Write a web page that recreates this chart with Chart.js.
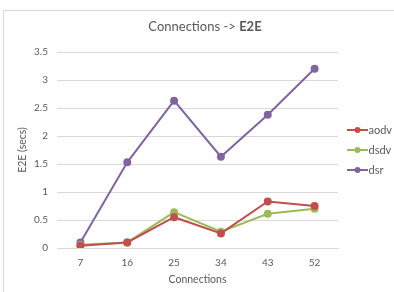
<!DOCTYPE html>
<html><head><meta charset="utf-8">
<script src="https://cdn.jsdelivr.net/npm/chart.js@4/dist/chart.umd.min.js"></script>
<style>
html,body{margin:0;padding:0;background:#fff;width:394px;height:292px;overflow:hidden;}
#box{position:absolute;left:3px;top:10px;width:391px;height:282px;border-top:1px solid #d9d9d9;border-left:1px solid #d9d9d9;box-sizing:border-box;}
#title{position:absolute;left:0;top:7px;width:100%;text-align:center;font-family:Lato,sans-serif;font-size:13px;color:#595959;padding-left:12px;box-sizing:border-box;}
#title b{font-weight:bold;}
canvas{position:absolute;left:0;top:0;}
</style></head><body>
<div id="box">
<canvas id="c" width="390" height="281"></canvas>
<div id="title">Connections -&gt; <b>E2E</b></div>
</div>
<script>
const categories = ["7","16","25","34","43","52"];
const aodv = [0.04, 0.10, 0.55, 0.26, 0.83, 0.75];
const dsdv = [0.06, 0.10, 0.64, 0.29, 0.61, 0.70];
const dsr  = [0.10, 1.53, 2.63, 1.63, 2.38, 3.20];
const seriesNames = ["aodv","dsdv","dsr"];
const colors = ["#C0504D","#9BBB59","#8064A2"];
const yTitle = "E2E (secs)";
const xTitle = "Connections";

function legendIcon(color){
  const cv = document.createElement('canvas');
  cv.width = 26; cv.height = 8;
  const g = cv.getContext('2d');
  g.strokeStyle = color; g.lineWidth = 2;
  g.beginPath(); g.moveTo(5,4); g.lineTo(26,4); g.stroke();
  g.fillStyle = color; g.beginPath(); g.arc(15.5,4,3,0,Math.PI*2); g.fill();
  return cv;
}
const icons = colors.map(legendIcon);
const font = "Lato, sans-serif";
const textColor = "#595959";

const datasets = [aodv, dsdv, dsr].map((d,i)=>({
  label: seriesNames[i], data: d,
  borderColor: colors[i], backgroundColor: colors[i],
  pointBackgroundColor: colors[i], pointBorderColor: colors[i],
  borderWidth: 2, pointRadius: 3, pointHoverRadius: 3, tension: 0
}));

const legendWidthPlugin = {
  id: 'legendWidth',
  beforeUpdate(chart){
    const lg = chart.legend;
    if (lg && !lg._patched){
      const orig = lg.fit;
      lg.fit = function(){ orig.call(this); this.width = 56; };
      lg._patched = true;
    }
  }
};

new Chart(document.getElementById('c'), {
  type: 'line',
  data: { labels: categories, datasets },
  plugins: [legendWidthPlugin],
  options: {
    responsive: false, animation: false, devicePixelRatio: 1,
    layout: { padding: { top: 41, left: 6, right: 0, bottom: 2 } },
    plugins: {
      title: { display: false },
      tooltip: { enabled: false },
      legend: {
        position: 'right', fullSize: false,
        labels: {
          usePointStyle: true, pointStyleWidth: 16, color: textColor,
          font: { family: font, size: 11 },
          boxWidth: 16, boxHeight: 8, padding: 9,
          generateLabels: (chart) => chart.data.datasets.map((ds,i)=>({
            text: ds.label, fillStyle: colors[i], strokeStyle: colors[i],
            pointStyle: icons[i], datasetIndex: i, hidden: false, lineWidth: 0, fontColor: textColor
          }))
        }
      }
    },
    scales: {
      x: {
        offset: true,
        grid: { display: false, drawTicks: false },
        border: { display: true, color: '#d9d9d9' },
        ticks: { color: textColor, font: { family: font, size: 10 }, padding: 9 },
        title: { display: true, text: xTitle, color: textColor, font: { family: font, size: 10.5 }, padding: { top: 0, bottom: 4 } },
        afterFit: s => { s.height = 42; }
      },
      y: {
        min: 0, max: 3.5,
        grid: { color: '#d9d9d9', drawTicks: false },
        border: { display: false },
        ticks: { stepSize: 0.5, color: textColor, font: { family: font, size: 10 }, padding: 9,
          callback: v => String(Math.round(v*10)/10) },
        title: { display: true, text: yTitle, color: textColor, font: { family: font, size: 10.5 }, padding: { top: 6, bottom: 0 } },
        afterFit: s => { s.width = 47; }
      }
    }
  }
});
</script>
</body></html>
